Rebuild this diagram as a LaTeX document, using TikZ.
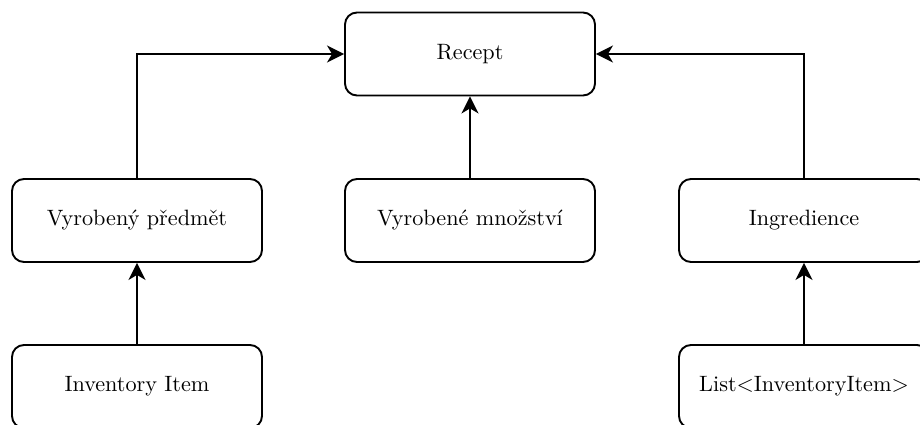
\documentclass[tikz,border=0pt]{standalone}
\usetikzlibrary{arrows.meta}
\newcommand{\bigtxt}[1]{\scalebox{2.22}{\fontsize{10}{12}\selectfont #1}}
\begin{document}
\begin{tikzpicture}[x=1pt,y=-1pt,
  box/.style={draw=black, line width=1.9pt, rounded corners=12pt, minimum width=250pt, minimum height=83pt, inner sep=0pt, anchor=center},
  conn/.style={line width=1.9pt, -{Stealth[length=17pt,width=17pt,inset=5pt]}}]
\useasboundingbox (0,0) rectangle (920,425);
\node[box] (recept) at (470,54) {\bigtxt{Recept}};
\node[box] (pred) at (137,220.5) {\bigtxt{Vyrobený předmět}};
\node[box] (mnoz) at (470,220.5) {\bigtxt{Vyrobené množství}};
\node[box] (ingr) at (804,220.5) {\bigtxt{Ingredience}};
\node[box] (inv) at (137,386.5) {\bigtxt{Inventory Item}};
\node[box] (list) at (804,386.5) {\bigtxt{List<InventoryItem>}};
\draw[conn] (pred.north) |- (recept.west);
\draw[conn] (ingr.north) |- (recept.east);
\draw[conn] (mnoz.north) -- (recept.south);
\draw[conn] (inv.north) -- (pred.south);
\draw[conn] (list.north) -- (ingr.south);
\end{tikzpicture}
\end{document}
